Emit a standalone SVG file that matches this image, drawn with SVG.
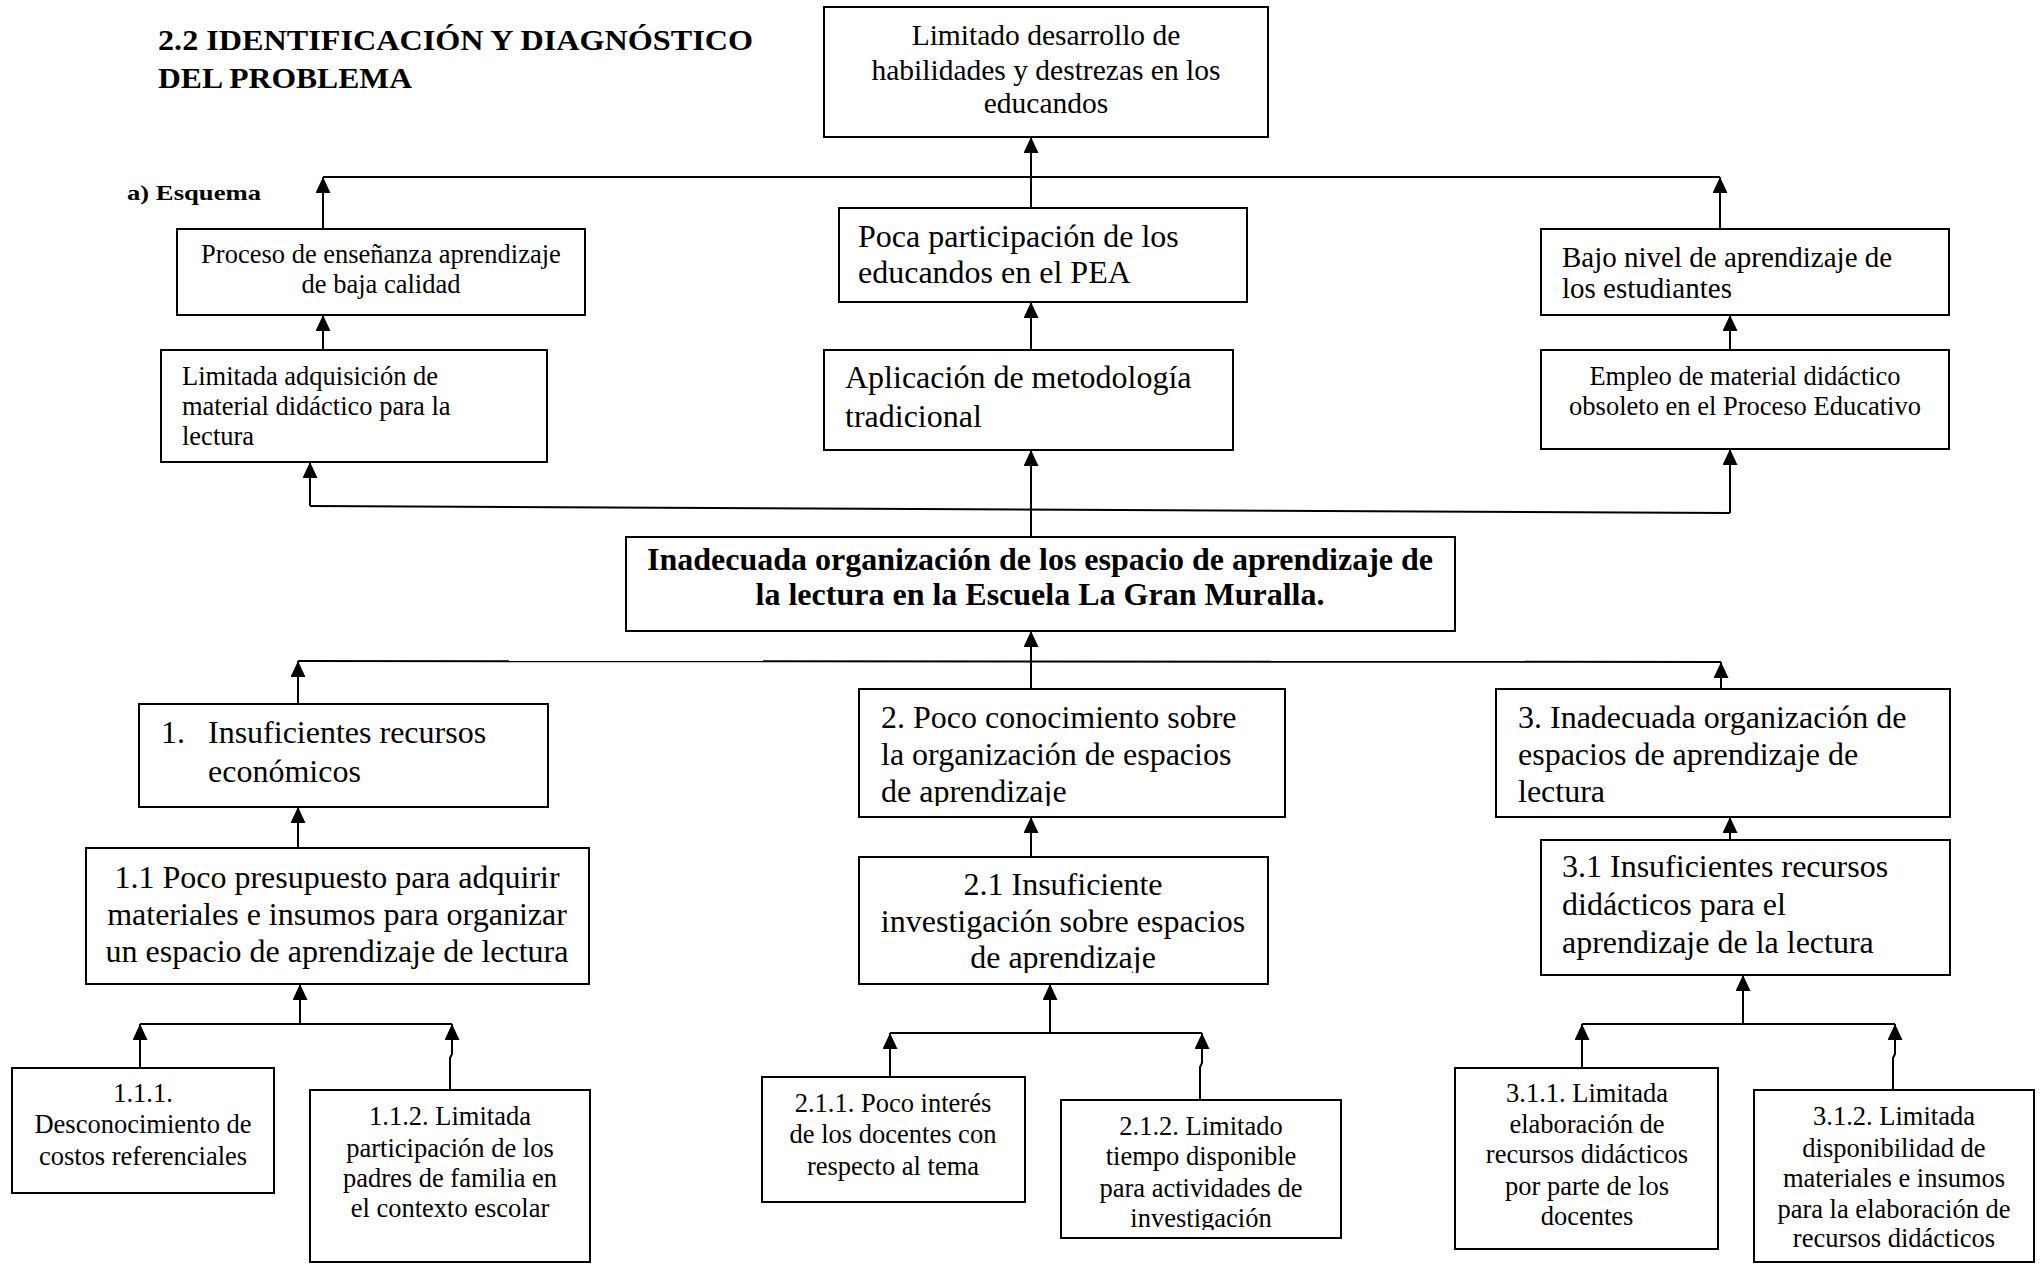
<svg xmlns="http://www.w3.org/2000/svg" width="2043" height="1264" viewBox="0 0 2043 1264">
<style>
  .bx { fill: #ffffff; stroke: #000000; stroke-width: 2; }
  text { font-family: "Liberation Serif", "Times New Roman", serif; fill: #000000; }
  .c { text-anchor: middle; }
  .s24 { font-size: 26.5px; }
  .s26 { font-size: 29.5px; }
  .s29 { font-size: 32px; }
  .b { font-weight: bold; }
  .ln { fill: none; stroke: #000000; stroke-width: 2; }
  .ar { fill: none; stroke: #000000; stroke-width: 2; marker-end: url(#ah); }
</style>
<defs>
  <marker id="ah" viewBox="0 -7.5 16 15" refX="16" refY="0" markerWidth="16" markerHeight="15" markerUnits="userSpaceOnUse" orient="auto">
    <path d="M0,-7.5 L16,0 L0,7.5 Z" fill="#000000"/>
  </marker>
  <clipPath id="clip2"><rect x="859" y="689" width="426" height="117"/></clipPath>
  <clipPath id="clip21"><rect x="859" y="857" width="409" height="116"/></clipPath>
  <clipPath id="clip212"><rect x="1061" y="1100" width="280" height="130"/></clipPath>
</defs>
<rect width="2043" height="1264" fill="#ffffff"/>

<g id="title">
  <text class="b" x="158" y="50" font-size="29" textLength="595" lengthAdjust="spacingAndGlyphs">2.2 IDENTIFICACIÓN Y DIAGNÓSTICO</text>
  <text class="b" x="158" y="88" font-size="29" textLength="254" lengthAdjust="spacingAndGlyphs">DEL PROBLEMA</text>
  <text class="b" x="127" y="200" font-size="22" textLength="134" lengthAdjust="spacingAndGlyphs">a) Esquema</text>
</g>

<g id="connectors">
  <path class="ar" d="M323,350 L323,315"/>
  <path class="ar" d="M323,229 L323,177"/>
  <path class="ln" d="M323,177 L1720,177"/>
  <path class="ar" d="M1720,229 L1720,177"/>
  <path class="ar" d="M1031,208 L1031,137"/>
  <path class="ar" d="M1031,350 L1031,302"/>
  <path class="ar" d="M1730,350 L1730,315"/>
  <path class="ar" d="M1031,537 L1031,450"/>
  <path class="ln" d="M310,506 L1730,513"/>
  <path class="ar" d="M310,506 L310,462"/>
  <path class="ar" d="M1730,513 L1730,449"/>

  <path class="ar" d="M1031,689 L1031,631"/>
  <path class="ln" d="M298,661 L1721,662"/>
  <path class="ar" d="M298,704 L298,661"/>
  <path class="ar" d="M1721,689 L1721,662"/>

  <path class="ar" d="M298,848 L298,807"/>
  <path class="ar" d="M1031,857 L1031,817"/>
  <path class="ar" d="M1730,840 L1730,817"/>

  <path class="ar" d="M300,1024 L300,984"/>
  <path class="ln" d="M140,1024 L452,1024"/>
  <path class="ar" d="M140,1068 L140,1024"/>
  <path class="ar" d="M450,1090 L450,1058 L452,1054 L452,1024"/>

  <path class="ar" d="M1050,1033 L1050,984"/>
  <path class="ln" d="M890,1033 L1202,1033"/>
  <path class="ar" d="M890,1077 L890,1033"/>
  <path class="ar" d="M1200,1100 L1200,1067 L1202,1063 L1202,1033"/>

  <path class="ar" d="M1743,1024 L1743,975"/>
  <path class="ln" d="M1582,1024 L1895,1024"/>
  <path class="ar" d="M1582,1068 L1582,1024"/>
  <path class="ar" d="M1893,1090 L1893,1058 L1895,1054 L1895,1024"/>
</g>

<g id="n-limitado-desarrollo">
  <rect class="bx" x="824" y="7" width="444" height="130"/>
  <text class="s26 c" x="1046" y="45">Limitado desarrollo de</text>
  <text class="s26 c" x="1046" y="80">habilidades y destrezas en los</text>
  <text class="s26 c" x="1046" y="113">educandos</text>
</g>

<g id="n-proceso">
  <rect class="bx" x="177" y="229" width="408" height="86"/>
  <text class="s24 c" x="381" y="263">Proceso de enseñanza aprendizaje</text>
  <text class="s24 c" x="381" y="293">de baja calidad</text>
</g>

<g id="n-limitada-adquisicion">
  <rect class="bx" x="161" y="350" width="386" height="112"/>
  <text class="s24" x="182" y="385">Limitada adquisición de</text>
  <text class="s24" x="182" y="415">material didáctico para la</text>
  <text class="s24" x="182" y="445">lectura</text>
</g>

<g id="n-poca-participacion">
  <rect class="bx" x="839" y="208" width="408" height="94"/>
  <text class="s29" x="858" y="247">Poca participación de los</text>
  <text class="s29" x="858" y="283">educandos en el PEA</text>
</g>

<g id="n-aplicacion">
  <rect class="bx" x="824" y="350" width="409" height="100"/>
  <text class="s29" x="845" y="388">Aplicación de metodología</text>
  <text class="s29" x="845" y="427">tradicional</text>
</g>

<g id="n-bajo-nivel">
  <rect class="bx" x="1541" y="229" width="408" height="86"/>
  <text font-size="29" x="1562" y="267">Bajo nivel de aprendizaje de</text>
  <text font-size="29" x="1562" y="298">los estudiantes</text>
</g>

<g id="n-empleo">
  <rect class="bx" x="1541" y="350" width="408" height="99"/>
  <text class="s24 c" x="1745" y="385">Empleo de material didáctico</text>
  <text class="s24 c" x="1745" y="415">obsoleto en el Proceso Educativo</text>
</g>

<g id="n-central">
  <rect class="bx" x="626" y="537" width="829" height="94"/>
  <text class="b c" font-size="32" x="1040" y="570">Inadecuada organización de los espacio de aprendizaje de</text>
  <text class="b c" font-size="32" x="1040" y="605">la lectura en la Escuela La Gran Muralla.</text>
</g>

<g id="n-1">
  <rect class="bx" x="139" y="704" width="409" height="103"/>
  <text class="s29" x="161" y="743">1.</text>
  <text class="s29" x="208" y="743">Insuficientes recursos</text>
  <text class="s29" x="208" y="782">económicos</text>
</g>

<g id="n-2">
  <rect class="bx" x="859" y="689" width="426" height="128"/>
  <g clip-path="url(#clip2)">
    <text class="s29" x="881" y="728">2. Poco conocimiento sobre</text>
    <text class="s29" x="881" y="765">la organización de espacios</text>
    <text class="s29" x="881" y="802">de aprendizaje</text>
  </g>
</g>

<g id="n-3">
  <rect class="bx" x="1496" y="689" width="454" height="128"/>
  <text class="s29" x="1518" y="728">3. Inadecuada organización de</text>
  <text class="s29" x="1518" y="765">espacios de aprendizaje de</text>
  <text class="s29" x="1518" y="802">lectura</text>
</g>

<g id="n-1-1">
  <rect class="bx" x="86" y="848" width="503" height="136"/>
  <text class="s29 c" x="337" y="888">1.1 Poco presupuesto para adquirir</text>
  <text class="s29 c" x="337" y="925">materiales e insumos para organizar</text>
  <text class="s29 c" x="337" y="962">un espacio de aprendizaje de lectura</text>
</g>

<g id="n-2-1">
  <rect class="bx" x="859" y="857" width="409" height="127"/>
  <g clip-path="url(#clip21)">
    <text class="s29 c" x="1063" y="895">2.1 Insuficiente</text>
    <text class="s29 c" x="1063" y="932">investigación sobre espacios</text>
    <text class="s29 c" x="1063" y="968">de aprendizaje</text>
  </g>
</g>

<g id="n-3-1">
  <rect class="bx" x="1541" y="840" width="409" height="135"/>
  <text class="s29" x="1562" y="877">3.1 Insuficientes recursos</text>
  <text class="s29" x="1562" y="915">didácticos para el</text>
  <text class="s29" x="1562" y="953">aprendizaje de la lectura</text>
</g>

<g id="n-1-1-1">
  <rect class="bx" x="12" y="1068" width="262" height="125"/>
  <text class="s24 c" x="143" y="1102">1.1.1.</text>
  <text class="s24 c" x="143" y="1133">Desconocimiento de</text>
  <text class="s24 c" x="143" y="1165">costos referenciales</text>
</g>

<g id="n-1-1-2">
  <rect class="bx" x="310" y="1090" width="280" height="172"/>
  <text class="s24 c" x="450" y="1125">1.1.2. Limitada</text>
  <text class="s24 c" x="450" y="1157">participación de los</text>
  <text class="s24 c" x="450" y="1187">padres de familia en</text>
  <text class="s24 c" x="450" y="1217">el contexto escolar</text>
</g>

<g id="n-2-1-1">
  <rect class="bx" x="762" y="1077" width="263" height="125"/>
  <text class="s24 c" x="893" y="1112">2.1.1. Poco interés</text>
  <text class="s24 c" x="893" y="1143">de los docentes con</text>
  <text class="s24 c" x="893" y="1175">respecto al tema</text>
</g>

<g id="n-2-1-2">
  <rect class="bx" x="1061" y="1100" width="280" height="138"/>
  <g clip-path="url(#clip212)">
    <text class="s24 c" x="1201" y="1135">2.1.2. Limitado</text>
    <text class="s24 c" x="1201" y="1165">tiempo disponible</text>
    <text class="s24 c" x="1201" y="1197">para actividades de</text>
    <text class="s24 c" x="1201" y="1227">investigación</text>
  </g>
</g>

<g id="n-3-1-1">
  <rect class="bx" x="1455" y="1068" width="263" height="181"/>
  <text class="s24 c" x="1587" y="1102">3.1.1. Limitada</text>
  <text class="s24 c" x="1587" y="1133">elaboración de</text>
  <text class="s24 c" x="1587" y="1163">recursos didácticos</text>
  <text class="s24 c" x="1587" y="1195">por parte de los</text>
  <text class="s24 c" x="1587" y="1225">docentes</text>
</g>

<g id="n-3-1-2">
  <rect class="bx" x="1754" y="1090" width="280" height="172"/>
  <text class="s24 c" x="1894" y="1125">3.1.2. Limitada</text>
  <text class="s24 c" x="1894" y="1157">disponibilidad de</text>
  <text class="s24 c" x="1894" y="1187">materiales e insumos</text>
  <text class="s24 c" x="1894" y="1218">para la elaboración de</text>
  <text class="s24 c" x="1894" y="1247">recursos didácticos</text>
</g>
</svg>
